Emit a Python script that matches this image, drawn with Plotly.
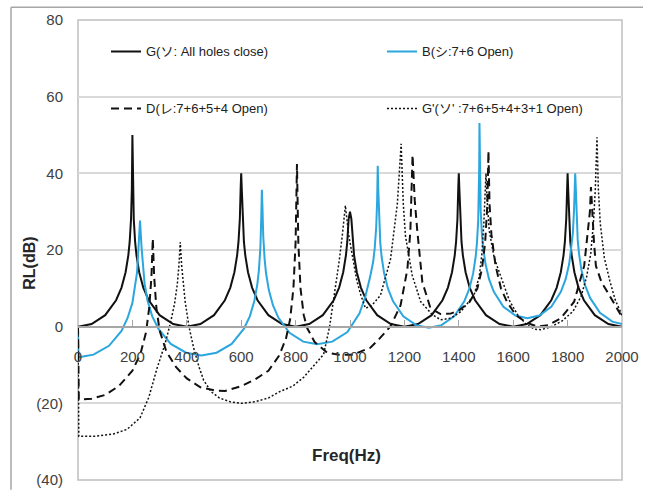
import plotly.graph_objects as go

# ---------------- data ----------------
g_freq = [0, 50, 100, 140, 160, 175, 185, 190, 195, 198, 200,
          202, 205, 210, 215, 225, 240, 260, 300, 350, 400,
          450, 500, 540, 560, 575, 585, 590, 595, 598, 600,
          602, 605, 610, 615, 625, 640, 660, 700, 750, 800,
          850, 900, 940, 960, 975, 985, 990, 995, 1000,
          1005, 1010, 1015, 1025, 1040, 1060, 1100, 1150, 1200,
          1250, 1300, 1340, 1360, 1375, 1385, 1390, 1395, 1398, 1400,
          1402, 1405, 1410, 1415, 1425, 1440, 1460, 1500, 1550, 1600,
          1650, 1700, 1740, 1760, 1775, 1785, 1790, 1795, 1798, 1800,
          1802, 1805, 1810, 1815, 1825, 1840, 1860, 1900, 1950, 2000]
g_rl = [0, 0.7, 3.0, 6.9, 10.2, 14.2, 18.6, 22.1, 28.1, 36.1, 50,
        36.1, 28.1, 22.1, 18.6, 14.2, 10.2, 6.9, 3.0, 0.7, 0,
        0.7, 3.0, 6.9, 10.2, 14.2, 18.6, 22.1, 28.1, 36.1, 40,
        36.1, 28.1, 22.1, 18.6, 14.2, 10.2, 6.9, 3.0, 0.7, 0,
        0.7, 3.0, 6.9, 10.2, 14.2, 18.6, 22.1, 28.1, 30,
        28.1, 22.1, 18.6, 14.2, 10.2, 6.9, 3.0, 0.7, 0,
        0.7, 3.0, 6.9, 10.2, 14.2, 18.6, 22.1, 28.1, 36.1, 40,
        36.1, 28.1, 22.1, 18.6, 14.2, 10.2, 6.9, 3.0, 0.7, 0,
        0.7, 3.0, 6.9, 10.2, 14.2, 18.6, 22.1, 28.1, 36.1, 40,
        36.1, 28.1, 22.1, 18.6, 14.2, 10.2, 6.9, 3.0, 0.7, 0]

b_freq = [0, 2, 57, 114, 160, 182, 200, 211, 217, 222, 228,
          233.7, 239.3, 245, 256, 273, 296, 341, 397.5, 454,
          509.5, 565, 609.4, 631.6, 648.3, 659.4, 664.9, 670.5, 673.8, 676,
          678, 681.1, 686.2, 691.2, 701.4, 716.6, 736.9, 777.5, 828.3, 879,
          934.8, 990.5, 1035, 1057, 1074, 1085.3, 1090.9, 1096.4, 1099.8, 1102,
          1103.9, 1106.7, 1111.4, 1116.1, 1125.5, 1139.6, 1158.4, 1196, 1243, 1290,
          1336.5, 1383, 1420.2, 1438.8, 1452.8, 1462.1, 1466.7, 1471.4, 1474.1, 1475.1, 1476,
          1476.9, 1477.8, 1480.4, 1484.8, 1489.2, 1498, 1511.2, 1528.8, 1564, 1608, 1652,
          1696, 1740, 1775.2, 1792.8, 1806, 1814.8, 1819.2, 1823.6, 1826.2, 1828,
          1829.8, 1832.6, 1837.1, 1841.7, 1850.8, 1864.4, 1882.6, 1919, 1964.5, 2000]
b_rl = [0, -8, -7.3, -5.0, -1.1, 2.2, 6.2, 10.6, 14.1, 20.1, 27.7,
        20.6, 14.6, 11.1, 6.7, 2.7, -0.6, -4.5, -6.8, -7.5,
        -6.8, -4.5, -0.6, 2.7, 6.7, 11.1, 14.6, 20.6, 28.6, 35.7,
        31.5, 23.5, 17.5, 14.0, 9.6, 5.6, 2.3, -1.6, -3.9, -4.6,
        -3.9, -1.4, 3.5, 8.0, 13.0, 17.0, 20.5, 26.0, 33.0, 42,
        35.8, 27.8, 21.8, 18.3, 13.9, 9.9, 6.6, 2.7, 0.4, -0.3,
        0.4, 2.7, 6.6, 9.9, 13.9, 18.3, 21.8, 27.8, 35.8, 42, 53.1,
        44.5, 38.3, 30.3, 24.3, 20.8, 16.4, 12.4, 9.1, 5.2, 2.9, 2.2,
        2.9, 5.2, 9.1, 12.4, 16.4, 20.8, 24.3, 30.3, 38.3, 40,
        36.7, 28.7, 22.7, 19.2, 14.8, 10.8, 7.5, 3.6, 1.3, 0.7]

d_freq = [0, 3, 50, 100, 150, 200, 230, 250, 262, 270, 275,
          280, 288, 300, 325, 360, 400, 450, 500, 540,
          600, 650, 700, 740, 765, 780, 792, 800, 805,
          810, 818, 830, 842, 870, 916, 960, 1010,
          1050, 1075, 1110, 1149, 1186, 1211, 1222, 1230,
          1238, 1247, 1266, 1296, 1333, 1370,
          1400, 1440, 1468, 1485, 1497, 1505, 1509,
          1513, 1520, 1535, 1555, 1577, 1610, 1650, 1690,
          1730, 1775, 1824, 1861, 1874, 1882, 1886,
          1890, 1897, 1904, 1925, 1947, 1975, 1996, 2000]
d_rl = [0, -19, -18.8, -17.8, -15.5, -11.5, -7, -1.5, 5, 13, 23,
        13, 5, -1, -6.5, -10.5, -13.5, -15.8, -16.6, -16.8,
        -15.5, -13.8, -11.5, -7.5, -3, 2, 10, 22, 42.4,
        22, 10, 3, -0.3, -4, -6.8, -7.3, -7.3,
        -6.3, -5.5, -3, 0.1, 5.6, 15, 25, 44.8,
        33, 25.3, 11.6, 4.8, 3.3, 3.4,
        4.2, 6.5, 9.9, 15, 22, 32, 45.8,
        32, 24, 16, 10, 6.5, 3, 1, 0,
        0.4, 2.2, 6.5, 15.9, 24.4, 30, 36.4,
        30, 22, 15.9, 11.5, 9, 5.5, 3.1, 2.5]

gp_freq = [0, 3, 60, 130, 180, 228, 260, 290, 320, 340, 355, 365, 371, 376,
           381, 387, 394, 408, 425, 445, 462, 490, 520, 560, 600,
           650, 700, 740, 790, 830, 870, 903, 925, 945, 960, 972, 983,
           995, 1010, 1025, 1040, 1057,
           1080, 1112, 1149, 1174, 1188,
           1196, 1204, 1229, 1260, 1300, 1333,
           1370, 1407, 1456, 1475, 1485, 1492, 1497, 1500,
           1504, 1512, 1530, 1554, 1585, 1616, 1650, 1680, 1702,
           1740, 1780, 1820, 1850, 1870, 1885, 1895, 1902, 1908,
           1913, 1920, 1935, 1955, 1975, 2000]
gp_rl = [0, -28.6, -28.6, -28, -26.8, -23.8, -18.5, -11, -4.5, 1, 6, 11, 16, 22,
         16, 11, 6.5, 0, -5.5, -10.5, -14, -17, -18.6, -19.6, -20,
         -19.6, -18.6, -17, -15.5, -13.2, -10, -7.2, 0, 9, 17, 24, 31.6,
         24, 18, 12, 8.2, 4.8,
         5.5, 8.2, 17.6, 32, 47.7,
         32, 23.6, 13.3, 6.5, 3.3, 1.8,
         2.2, 3.9, 8.2, 13, 19, 27, 36, 40,
         33, 25, 18, 13.3, 7, 3.1, 0.5, -0.7, -0.8,
         0, 1.5, 4, 8, 13, 19, 27, 36, 49.4,
         36, 27, 18, 12, 7, 3]

y_tickvals = [-40, -20, 0, 20, 40, 60, 80]
y_ticktext = ["(40)", "(20)", "0", "20", "40", "60", "80"]
x_tickvals = [0, 200, 400, 600, 800, 1000, 1200, 1400, 1600, 1800, 2000]

names = ["G(ソ: All holes close)", "B(シ:7+6 Open)",
         "D(レ:7+6+5+4 Open)", "G'(ソ' :7+6+5+4+3+1 Open)"]

FONT = "Liberation Sans Narrow, Arial Narrow, Liberation Sans, Noto Sans CJK JP, sans-serif"

fig = go.Figure()
fig.add_trace(go.Scatter(x=g_freq, y=g_rl, mode="lines", name=names[0],
                         line=dict(color="#111111", width=2), legend="legend"))
fig.add_trace(go.Scatter(x=b_freq, y=b_rl, mode="lines", name=names[1],
                         line=dict(color="#2ba6de", width=2), legend="legend2"))
fig.add_trace(go.Scatter(x=d_freq, y=d_rl, mode="lines", name=names[2],
                         line=dict(color="#111111", width=2, dash="8px,5px"), legend="legend3"))
fig.add_trace(go.Scatter(x=gp_freq, y=gp_rl, mode="lines", name=names[3],
                         line=dict(color="#111111", width=1.5, dash="2px,2px"), legend="legend4"))

L, R, T, B = 78, 27, 20, 10
W, H = 649, 498
pw, ph = W - L - R, H - T - B

def px(xp):
    return (xp - L) / pw

def py(yp):
    return (H - B - yp) / ph

def leg(xp, yp):
    return dict(orientation="v", x=px(xp), xanchor="left", y=py(yp), yanchor="middle",
                bgcolor="rgba(0,0,0,0)", borderwidth=0,
                font=dict(family=FONT, size=13, color="#222222"))

fig.update_layout(
    width=W, height=H,
    margin=dict(l=L, r=R, t=T, b=B),
    paper_bgcolor="white", plot_bgcolor="white",
    font=dict(family=FONT, size=14, color="#404040"),
    legend=leg(106, 52),
    legend2=leg(382, 52),
    legend3=leg(106, 110),
    legend4=leg(382, 110),
    xaxis=dict(range=[0, 2000], tickvals=x_tickvals, anchor="free", position=1/3,
               showline=True, linecolor="#a6a6a6", linewidth=2,
               ticks="inside", ticklen=6, tickcolor="#a6a6a6",
               showgrid=False, zeroline=False, ticklabelstandoff=16,
               tickfont=dict(family=FONT, size=15, color="#404040")),
    yaxis=dict(range=[-40, 80], tickvals=y_tickvals, ticktext=y_ticktext,
               showgrid=True, gridcolor="#d9d9d9", gridwidth=1.5,
               zeroline=False, showline=False, ticks="",
               ticklabelstandoff=14,
               tickfont=dict(family=FONT, size=15, color="#404040")),
    shapes=[
        dict(type="rect", xref="paper", yref="paper", x0=0, x1=1, y0=0, y1=1,
             line=dict(color="#bfbfbf", width=1.5), layer="below"),
        dict(type="line", xref="paper", yref="paper", x0=px(11), x1=px(643), y0=py(7), y1=py(7),
             line=dict(color="#a6a6a6", width=1.5)),
        dict(type="line", xref="paper", yref="paper", x0=px(11), x1=px(11), y0=py(7), y1=py(498),
             line=dict(color="#a6a6a6", width=1.5)),
    ],
    annotations=[
        dict(text="<b>RL(dB)</b>", xref="paper", yref="paper", x=px(30), y=py(268),
             showarrow=False, textangle=-90, xanchor="center", yanchor="middle",
             font=dict(family=FONT, size=16, color="#262626")),
        dict(text="<b>Freq(Hz)</b>", xref="paper", yref="paper", x=px(346), y=py(463),
             showarrow=False, xanchor="center", yanchor="middle",
             font=dict(family=FONT, size=17, color="#262626")),
    ],
    showlegend=True,
)

fig.write_html("out.html")
